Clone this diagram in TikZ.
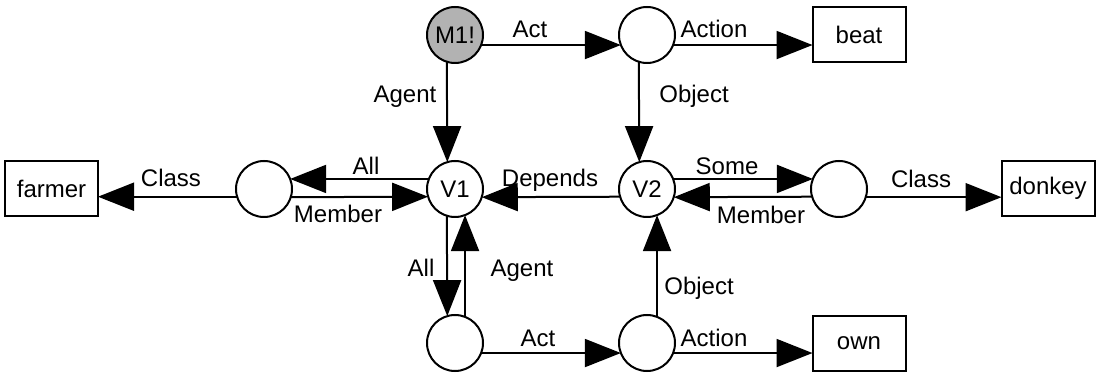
\documentclass[tikz,border=0pt]{standalone}
\usepackage{fontspec}
\setmainfont{Liberation Sans}
\usetikzlibrary{arrows.meta}
\begin{document}
\begin{tikzpicture}[x=0.5pt, y=-0.5pt,
  every node/.style={font=\fontsize{12}{14}\selectfont},
  concept/.style={circle, draw, line width=1pt, minimum size=28pt, inner sep=0pt, outer sep=0pt, fill=white},
  asserted/.style={concept, fill=black!30},
  word/.style={rectangle, draw, line width=1pt, minimum width=46.5pt, minimum height=27.5pt, inner sep=0pt, outer sep=0pt},
  arc/.style={line width=1pt, -{Triangle[length=18pt, width=14pt]}},
  lbl/.style={anchor=base, inner sep=0pt}]
\useasboundingbox (0,0) rectangle (1097,373);

% molecular and base nodes
\node[asserted] (m1) at (455,35) {M1!};
\node[concept]  (at) at (647,35) {};
\node[concept]  (v1) at (455,189) {V1};
\node[concept]  (v2) at (647,189) {V2};
\node[concept]  (al) at (264,189) {};
\node[concept]  (ar) at (839,189) {};
\node[concept]  (bl) at (455,343) {};
\node[concept]  (br) at (647,343) {};

% lexical nodes
\node[word] (farmer) at (51.5,188.5) {farmer};
\node[word] (beat)   at (859,34.5)   {beat};
\node[word] (own)    at (859,343.5)  {own};
\node[word] (donkey) at (1048,188.5) {donkey};

% arcs
\draw[arc] (m1.339) -- (at.201);
\draw[arc] (at.339) -- (at.339 -| beat.west);
\draw[arc] (m1.253.4) -- (v1.106.6);
\draw[arc] (at.253.4) -- (v2.106.6);
\draw[arc] (v1.159) -- (al.21);
\draw[arc] (al.343.4) -- (v1.196.6);
\draw[arc] (al.196.6) -- (al.196.6 -| farmer.east);
\draw[arc] (v2.196.6) -- (v1.343.4);
\draw[arc] (v2.21) -- (ar.159);
\draw[arc] (ar.196.6) -- (v2.343.4);
\draw[arc] (ar.343.4) -- (ar.343.4 -| donkey.west);
\draw[arc] (v1.253.4) -- (bl.106.6);
\draw[arc] (bl.69) -- (v1.291);
\draw[arc] (bl.339) -- (br.201);
\draw[arc] (br.69) -- (v2.291);
\draw[arc] (br.339) -- (br.339 -| own.west);

% arc labels
\node[lbl] (tAct)     at (530,38)  {Act};
\node[lbl] (tAction)  at (714,38)  {Action};
\node[lbl] (tAgent)   at (405,103) {Agent};
\node[lbl] (tObject)  at (694,103) {Object};
\node[lbl] (lAll)     at (366,175) {All};
\node[lbl] (lMember)  at (338,223) {Member};
\node[lbl] (lClass)   at (171,187) {Class};
\node[lbl] (tDepends) at (550,187) {Depends};
\node[lbl] (rSome)    at (727,175) {Some};
\node[lbl] (rMember)  at (761,224) {Member};
\node[lbl] (rClass)   at (921,188) {Class};
\node[lbl] (bAll)     at (421,277) {All};
\node[lbl] (bAgent)   at (522,277) {Agent};
\node[lbl] (bObject)  at (699,295) {Object};
\node[lbl] (bAct)     at (538,347) {Act};
\node[lbl] (bAction)  at (714,347) {Action};
\end{tikzpicture}
\end{document}
